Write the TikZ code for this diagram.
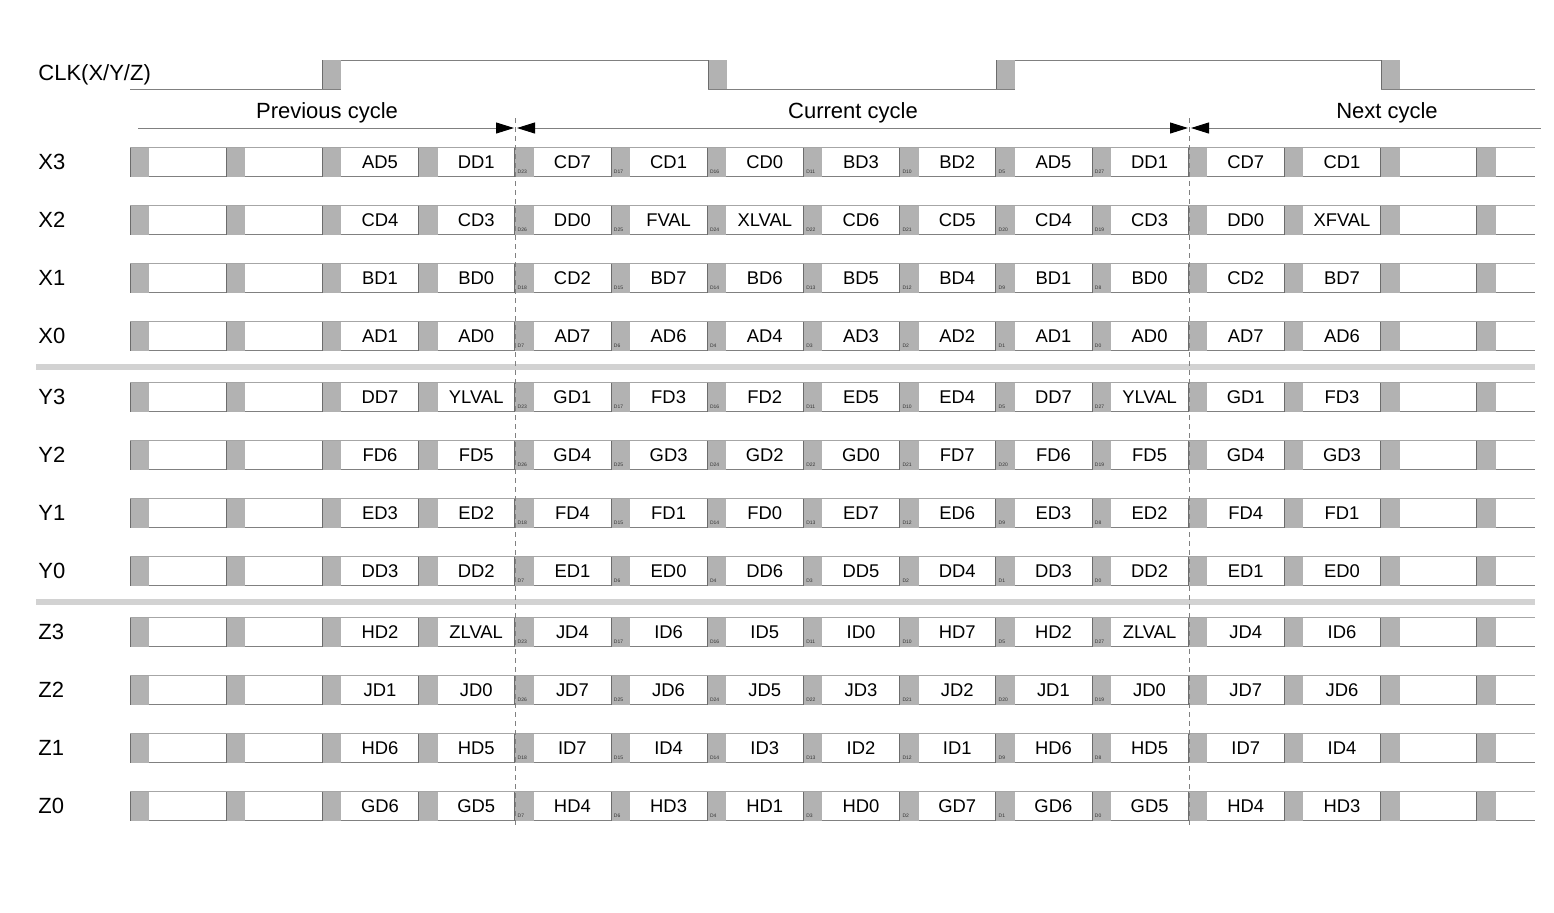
\documentclass[tikz,border=0pt]{standalone}
\usepackage{fontspec}
\setmainfont{Liberation Sans}
\usetikzlibrary{arrows.meta}
\begin{document}
\begin{tikzpicture}[x=0.5pt,y=-0.5pt,
  lane/.style={draw=gray!70,line width=0.5pt},
  laneb/.style={draw=gray,line width=0.6pt},
  slot/.style={fill=gray!60},
  slotedge/.style={draw=gray!85!black,line width=0.5pt},
  clk/.style={draw=gray,line width=0.5pt},
  word/.style={font=\fontsize{9.2}{10}\selectfont,inner sep=0pt},
  bit/.style={font=\fontsize{2.5}{3}\selectfont,text=gray!40!black,inner sep=0pt,anchor=south west},
  sig/.style={font=\fontsize{11}{13}\selectfont,anchor=west,inner sep=0pt},
  cyc/.style={font=\fontsize{11}{13}\selectfont,inner sep=0pt},
  bound/.style={draw=gray,dash pattern=on 2.5pt off 2pt,line width=0.4pt},
  span/.style={draw=gray,line width=0.5pt},
  sep/.style={fill=gray!35},
  >={Triangle[length=9pt,width=5.5pt,color=black]}]
\useasboundingbox (0,0) rectangle (1554,912);
\node[sig] (clk) at (38,75) {CLK(X/Y/Z)};
\draw[clk] (130,89) -- (341,89);
\draw[clk] (322,60) -- (727,60);
\draw[clk] (708,89) -- (1015,89);
\draw[clk] (996,60) -- (1400,60);
\draw[clk] (1381,89) -- (1535,89);
\foreach \x in {322,708,996,1381} {
  \fill[slot] (\x,60) rectangle +(19,29);
  \draw[slotedge] (\x,60) -- +(0,29);
}
\node[cyc] (prev) at (327,113) {Previous cycle};
\node[cyc] (cur) at (853,113) {Current cycle};
\node[cyc] (next) at (1387,113) {Next cycle};
\coordinate (pc) at (138,128);
\coordinate (b1l) at (514,128);
\coordinate (b1r) at (517,128);
\coordinate (b2l) at (1188,128);
\coordinate (b2r) at (1191,128);
\coordinate (nc) at (1541,128);
\draw[span,->] (pc) -- (b1l);
\draw[span,<->] (b1r) -- (b2l);
\draw[span,<-] (b2r) -- (nc);
\foreach \y/\lab/\words/\bits in {
  162/X3/{AD5,DD1,CD7,CD1,CD0,BD3,BD2,AD5,DD1,CD7,CD1}/{D23,D17,D16,D11,D10,D5,D27},
  220/X2/{CD4,CD3,DD0,FVAL,XLVAL,CD6,CD5,CD4,CD3,DD0,XFVAL}/{D26,D25,D24,D22,D21,D20,D19},
  278/X1/{BD1,BD0,CD2,BD7,BD6,BD5,BD4,BD1,BD0,CD2,BD7}/{D18,D15,D14,D13,D12,D9,D8},
  336/X0/{AD1,AD0,AD7,AD6,AD4,AD3,AD2,AD1,AD0,AD7,AD6}/{D7,D6,D4,D3,D2,D1,D0},
  397/Y3/{DD7,YLVAL,GD1,FD3,FD2,ED5,ED4,DD7,YLVAL,GD1,FD3}/{D23,D17,D16,D11,D10,D5,D27},
  455/Y2/{FD6,FD5,GD4,GD3,GD2,GD0,FD7,FD6,FD5,GD4,GD3}/{D26,D25,D24,D22,D21,D20,D19},
  513/Y1/{ED3,ED2,FD4,FD1,FD0,ED7,ED6,ED3,ED2,FD4,FD1}/{D18,D15,D14,D13,D12,D9,D8},
  571/Y0/{DD3,DD2,ED1,ED0,DD6,DD5,DD4,DD3,DD2,ED1,ED0}/{D7,D6,D4,D3,D2,D1,D0},
  632/Z3/{HD2,ZLVAL,JD4,ID6,ID5,ID0,HD7,HD2,ZLVAL,JD4,ID6}/{D23,D17,D16,D11,D10,D5,D27},
  690/Z2/{JD1,JD0,JD7,JD6,JD5,JD3,JD2,JD1,JD0,JD7,JD6}/{D26,D25,D24,D22,D21,D20,D19},
  748/Z1/{HD6,HD5,ID7,ID4,ID3,ID2,ID1,HD6,HD5,ID7,ID4}/{D18,D15,D14,D13,D12,D9,D8},
  806/Z0/{GD6,GD5,HD4,HD3,HD1,HD0,GD7,GD6,GD5,HD4,HD3}/{D7,D6,D4,D3,D2,D1,D0}} {
  \node[sig] (\lab) at (38,\y) {\lab};
  \draw[lane] (130,\y-14.5) -- (1535,\y-14.5);
  \draw[laneb] (130,\y+14.5) -- (1535,\y+14.5);
  \foreach \k in {0,...,14} {
    \fill[slot] (130+96.2*\k,\y-14.5) rectangle +(19,29);
    \draw[slotedge] (130+96.2*\k,\y-14.5) -- +(0,29);
  }
  \foreach \t [count=\k from 2] in \words {
    \node[word] (\lab-\k) at (187.6+96.2*\k,\y) {\t};
  }
  \foreach \t [count=\k from 4] in \bits {
    \node[bit] (\lab-d\k) at (132.5+96.2*\k,\y+12) {\t};
  }
}
\fill[sep] (36,363.5) rectangle (1535,369.5);
\fill[sep] (36,598.5) rectangle (1535,604.5);
\coordinate (b1) at (515,118);
\coordinate (b1e) at (515,828);
\coordinate (b2) at (1189,118);
\coordinate (b2e) at (1189,828);
\draw[bound] (b1) -- (b1e);
\draw[bound] (b2) -- (b2e);
\end{tikzpicture}
\end{document}
